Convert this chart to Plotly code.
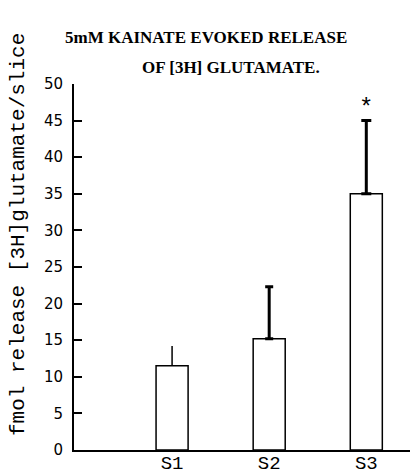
import plotly.graph_objects as go

# Stimulation periods and mean evoked release (fmol/slice) with SEM
periods = ["S1", "S2", "S3"]
release = [11.5, 15.2, 35.0]
sem = [2.7, 7.1, 10.0]
significant = [False, False, True]

y_ticks = [0, 5, 10, 15, 20, 25, 30, 35, 40, 45, 50]

title_lines = ["5mM KAINATE EVOKED RELEASE", "OF [3H] GLUTAMATE."]
y_title = "fmol release [3H]glutamate/slice"

# error-bar line thickness / cap half-width for each period
err_thickness = [1.5, 3.0, 3.0]
err_cap = [0, 4, 5]

fig = go.Figure()

for i, p in enumerate(periods):
    fig.add_trace(go.Bar(
        x=[i], y=[release[i]],
        width=0.33,
        marker=dict(color="white", line=dict(color="black", width=1.5)),
        error_y=dict(type="data", symmetric=False, array=[sem[i]], arrayminus=[0],
                     color="black", thickness=err_thickness[i], width=err_cap[i]),
        showlegend=False,
    ))

# significance marker above the error bar
sig_x = [i for i, s in enumerate(significant) if s]
sig_y = [release[i] + sem[i] for i in sig_x]
fig.add_trace(go.Scatter(
    x=sig_x, y=sig_y, mode="text", text=["*"] * len(sig_x),
    textposition="top center",
    textfont=dict(family="Liberation Mono", size=24, color="black"),
    showlegend=False,
))

# two-line heading, each line centred separately
fig.add_annotation(text="<b>" + title_lines[0] + "</b>", xref="paper", yref="paper",
                   x=0.393, y=1.128, xanchor="center", yanchor="middle", showarrow=False,
                   font=dict(family="Liberation Serif", size=17, color="black"))
fig.add_annotation(text="<b>" + title_lines[1] + "</b>", xref="paper", yref="paper",
                   x=0.467, y=1.044, xanchor="center", yanchor="middle", showarrow=False,
                   font=dict(family="Liberation Serif", size=17, color="black"))

# vertical axis title placed by hand near the left edge
fig.add_annotation(text=y_title, xref="paper", yref="paper",
                   x=-0.163, y=0.588, xanchor="center", yanchor="middle",
                   textangle=-90, showarrow=False,
                   font=dict(family="Liberation Mono", size=21, color="black"))

fig.update_layout(
    width=415, height=475,
    margin=dict(l=74, r=5, t=84, b=25),
    paper_bgcolor="white", plot_bgcolor="white",
    barmode="overlay",
)

fig.update_xaxes(
    range=[-1.01, 2.45], tickmode="array", tickvals=list(range(len(periods))),
    ticktext=periods, showgrid=False, zeroline=False, automargin=False,
    showline=True, linecolor="black", linewidth=2, ticks="",
    ticklabelstandoff=-6,
    tickfont=dict(family="Liberation Mono", size=19, color="black"),
)
fig.update_yaxes(
    range=[0, 50], tickvals=y_ticks, showgrid=False, zeroline=False, automargin=False,
    showline=True, linecolor="black", linewidth=2,
    ticks="inside", ticklen=8, tickwidth=1.5, tickcolor="black",
    ticklabelstandoff=6,
    tickfont=dict(family="DejaVu Sans", size=15, color="black"),
)

fig.write_html("out.html")
